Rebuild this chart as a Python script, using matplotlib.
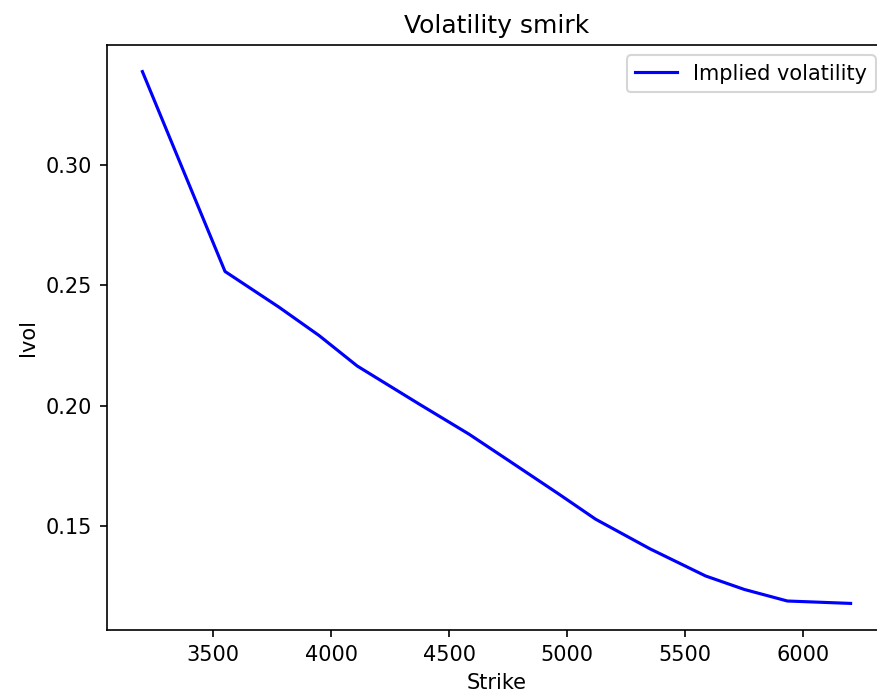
import matplotlib
matplotlib.use("Agg")
import matplotlib.pyplot as plt

strikes = [3200, 3550, 3778, 3948, 4110, 4372, 4583, 4753, 4965, 5120, 5350, 5586, 5750, 5932, 6200]
ivol = [0.3389, 0.2558, 0.2410, 0.2292, 0.2165, 0.2007, 0.1882, 0.1771, 0.1632, 0.1528, 0.1405, 0.1292, 0.1236, 0.1188, 0.1178]

fig = plt.figure(figsize=(877/150, 695/150), dpi=150)
ax = fig.add_axes([107/877, 1-630/695, 779/877, 585/695])
ax.plot(strikes, ivol, color="blue", label="Implied volatility")
ax.set_title("Volatility smirk")
ax.set_xlabel("Strike")
ax.set_ylabel("Ivol")
ax.spines["right"].set_visible(False)
ax.legend(loc="upper right")
fig.savefig("out.png", dpi=150)
